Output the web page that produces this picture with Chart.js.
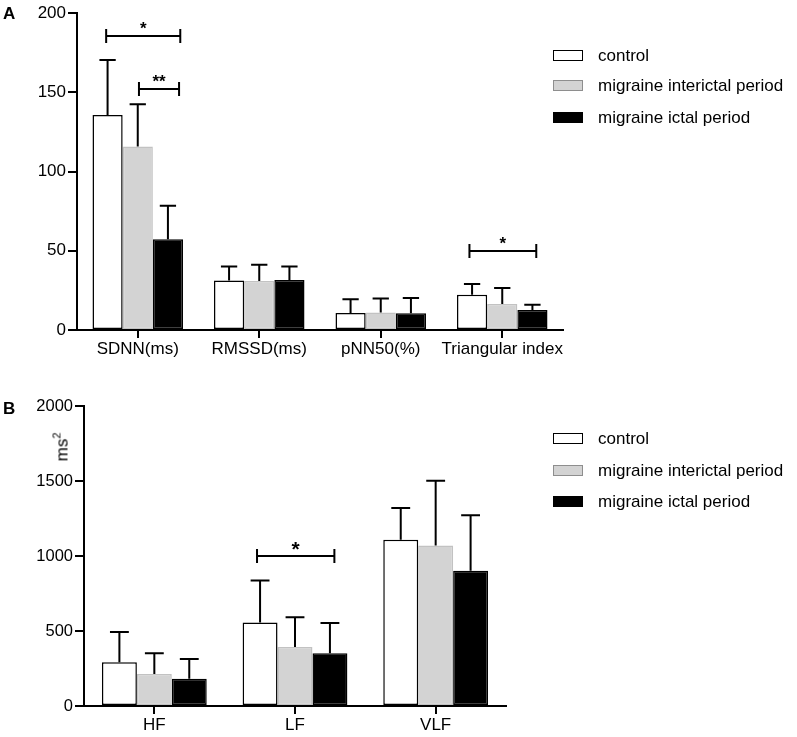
<!DOCTYPE html>
<html><head><meta charset="utf-8">
<script src="https://cdn.jsdelivr.net/npm/chart.js@4.4.1/dist/chart.umd.min.js"></script>
<style>
html,body{margin:0;padding:0;background:#fff;width:797px;height:737px;overflow:hidden;font-family:"Liberation Sans",Arial,sans-serif;color:#000;}
.wrap{position:absolute;left:0;width:797px;}
#wa{top:0;height:370px;}
#wb{top:370px;height:367px;}
canvas{display:block}
.letter{position:absolute;font-weight:bold;font-size:17px;line-height:17px;color:#000;}
.legend{position:absolute;left:553px;font-size:17px;color:#000;}
.legend .row{position:absolute;left:0;white-space:nowrap;height:20px;width:240px;}
.legend .sw{position:absolute;left:0;top:4px;width:30px;height:11px;box-sizing:border-box;border:1.5px solid #000;}
.legend .tx{position:absolute;left:45px;top:0;line-height:20px;}
.ytitle{position:absolute;font-size:17px;line-height:17px;white-space:nowrap;color:#000;transform:translate(-50%,-50%) rotate(-90deg);}
.ytitle sup{font-size:11px;vertical-align:7px;line-height:0;}
</style></head>
<body>
<div class="wrap" id="wa"><canvas id="ca" width="797" height="370"></canvas></div>
<div class="wrap" id="wb"><canvas id="cb" width="797" height="367"></canvas></div>
<div class="letter" style="left:3px;top:5px;">A</div>
<div class="letter" style="left:3px;top:400px;">B</div>
<div class="ytitle" style="left:62px;top:447px;">ms<sup>2</sup></div>
<div class="legend" id="legA" style="top:46px;"></div>
<div class="legend" id="legB" style="top:429px;"></div>
<script>
// ---------- data ----------
const categoriesA = ['SDNN(ms)', 'RMSSD(ms)', 'pNN50(%)', 'Triangular index'];
const categoriesB = ['HF', 'LF', 'VLF'];
const seriesNames = ['control', 'migraine interictal period', 'migraine ictal period'];

const controlA     = [135.6, 31.3, 10.7, 22.3];
const interictalA  = [115.7, 30.9, 11.1, 16.4];
const ictalA       = [57.2, 31.5, 10.5, 12.6];
const controlSdA   = [34.7, 8.7, 8.7, 6.7];
const interictalSdA= [26.7, 10.3, 8.7, 10.1];
const ictalSdA     = [21.2, 8.5, 9.7, 3.4];

const controlB     = [291, 556, 1108];
const interictalB  = [213, 393, 1070];
const ictalB       = [182, 351, 902];
const controlSdB   = [202, 280, 212];
const interictalSdB= [138, 198, 432];
const ictalSdB     = [131, 202, 369];

const ticksA = [0, 50, 100, 150, 200];
const ticksB = [0, 500, 1000, 1500, 2000];

// significance brackets (x in category units, y in data units)
const sigA = [
  {from: -0.26, to: 0.35, y: 185.5, label: '*'},
  {from: 0.01, to: 0.34, y: 152, label: '**'},
  {from: 2.73, to: 3.28, y: 49.8, label: '*'}
];
const sigB = [
  {from: 0.73, to: 1.28, y: 1000, label: '*'}
];

// ---------- styles ----------
const seriesFill   = ['#ffffff', '#d3d3d3', '#000000'];
const seriesBorder = ['#000000', '#c2c2c2', '#000000'];
const swatchBorder = ['#000000', '#8e8e8e', '#000000'];

Chart.defaults.font.family = '"Liberation Sans", Arial, sans-serif';
Chart.defaults.color = '#000';

const errPlugin = {
  id: 'errbars',
  afterDatasetsDraw(chart, args, opts) {
    const ctx = chart.ctx, ys = chart.scales.y, xs = chart.scales.x;
    ctx.save();
    ctx.strokeStyle = '#000';
    ctx.lineWidth = 2;
    chart.data.datasets.forEach((ds, i) => {
      const meta = chart.getDatasetMeta(i);
      meta.data.forEach((bar, j) => {
        const top = ys.getPixelForValue(ds.data[j] + ds.sd[j]);
        const half = bar.width * 0.27;
        ctx.beginPath();
        ctx.moveTo(bar.x, bar.y);
        ctx.lineTo(bar.x, top);
        ctx.moveTo(bar.x - half, top);
        ctx.lineTo(bar.x + half, top);
        ctx.stroke();
      });
    });
    (opts.brackets || []).forEach(b => {
      const x1 = xs.getPixelForValue(b.from), x2 = xs.getPixelForValue(b.to);
      const y = ys.getPixelForValue(b.y);
      ctx.beginPath();
      ctx.moveTo(x1, y); ctx.lineTo(x2, y);
      ctx.moveTo(x1, y - 7); ctx.lineTo(x1, y + 7);
      ctx.moveTo(x2, y - 7); ctx.lineTo(x2, y + 7);
      ctx.stroke();
      ctx.fillStyle = '#000';
      ctx.font = 'bold ' + opts.starSize + 'px "Liberation Sans", Arial, sans-serif';
      ctx.textAlign = 'center';
      ctx.textBaseline = 'alphabetic';
      ctx.fillText(b.label, (x1 + x2) / 2, y - opts.starGap);
    });
    ctx.restore();
  }
};

function makeChart(id, cats, vals, sds, ticks, sig, g) {
  const datasets = seriesNames.map((name, i) => ({
    label: name,
    data: vals[i],
    sd: sds[i],
    backgroundColor: seriesFill[i],
    borderColor: seriesBorder[i],
    borderWidth: 1.5,
    borderSkipped: false,
    categoryPercentage: 0.745,
    barPercentage: 1.0
  }));
  return new Chart(document.getElementById(id), {
    type: 'bar',
    data: {labels: cats, datasets},
    plugins: [errPlugin],
    options: {
      responsive: false,
      animation: false,
      layout: {padding: {left: 0, top: g.top, right: g.right, bottom: 0}},
      plugins: {
        legend: {display: false},
        tooltip: {enabled: false},
        errbars: {brackets: sig, starSize: g.starSize, starGap: g.starGap}
      },
      scales: {
        x: {
          offset: true,
          grid: {offset: false, drawOnChartArea: false, drawTicks: true, tickLength: 8, color: '#000', lineWidth: 2},
          border: {display: true, color: '#000', width: 2},
          ticks: {font: {size: 17}, padding: 1, color: '#000', maxRotation: 0, autoSkip: false},
          afterFit(s) { s.height = g.xh; }
        },
        y: {
          min: ticks[0], max: ticks[ticks.length - 1],
          grid: {drawOnChartArea: false, drawTicks: true, tickLength: 9, color: '#000', lineWidth: 2},
          border: {display: true, color: '#000', width: 2},
          ticks: {font: {size: g.yFont}, padding: 2, color: '#000', callback: v => String(v)},
          afterBuildTicks(s) { s.ticks = ticks.map(v => ({value: v})); },
          afterFit(s) { s.width = g.yw; }
        }
      }
    }
  });
}

makeChart('ca', categoriesA, [controlA, interictalA, ictalA], [controlSdA, interictalSdA, ictalSdA], ticksA, sigA,
  {top: 13, right: 234, xh: 40, yw: 77, starSize: 17, starGap: 2, yFont: 17});
makeChart('cb', categoriesB, [controlB, interictalB, ictalB], [controlSdB, interictalSdB, ictalSdB], ticksB, sigB,
  {top: 36, right: 291, xh: 31, yw: 84, starSize: 21, starGap: 0, yFont: 16.5});

function buildLegend(id, rowTops) {
  const el = document.getElementById(id);
  seriesNames.forEach((name, i) => {
    const row = document.createElement('div');
    row.className = 'row';
    row.style.top = rowTops[i] + 'px';
    const sw = document.createElement('div');
    sw.className = 'sw';
    sw.style.background = seriesFill[i];
    sw.style.borderColor = swatchBorder[i];
    const tx = document.createElement('div');
    tx.className = 'tx';
    tx.textContent = name;
    row.appendChild(sw); row.appendChild(tx);
    el.appendChild(row);
  });
}
buildLegend('legA', [0, 30, 62]);
buildLegend('legB', [0, 32, 63]);
</script>
</body></html>
